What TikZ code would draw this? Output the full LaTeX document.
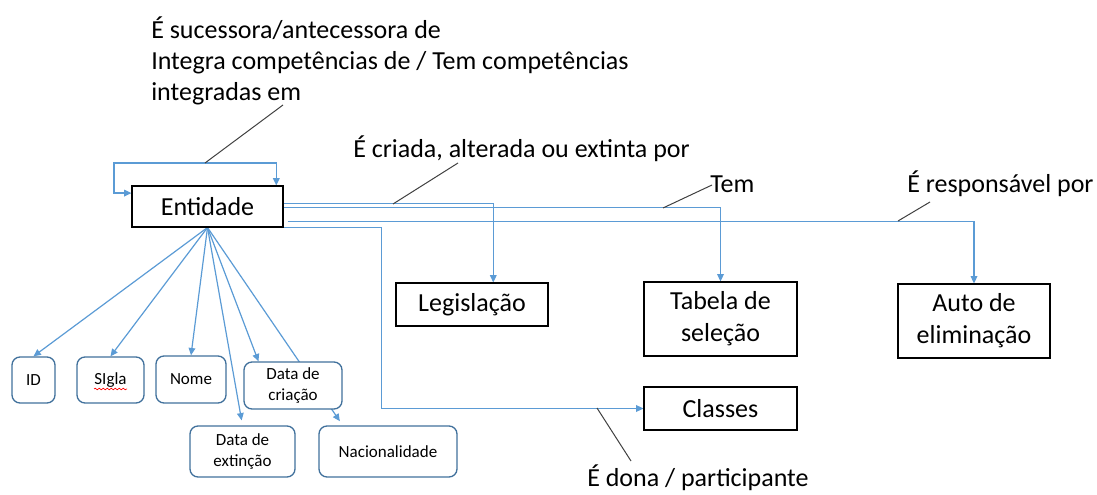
\documentclass[tikz,border=0pt]{standalone}
\usepackage{fontspec}
\setmainfont{Carlito}
\usetikzlibrary{arrows.meta,backgrounds,decorations.pathmorphing}

\begin{document}
\begin{tikzpicture}[x=0.75pt,y=-0.75pt,
  font=\fontsize{19.5}{23.25}\selectfont,
  >={Triangle[length=5.5pt,width=5pt]},
  caixa/.style={draw=black, line width=0.8pt, fill=white, inner sep=0pt, align=center, font=\fontsize{19.5}{24}\selectfont},
  atributo/.style={draw=atributoborda, line width=1pt, rounded corners=6pt, fill=white, inner sep=0pt, align=center, font=\fontsize{12.75}{15.75}\selectfont},
  ligacao/.style={draw=ligacaoazul, line width=0.9pt, ->},
  rotulo/.style={draw=rotulocinza, line width=0.75pt},
  texto/.style={inner sep=0pt, anchor=base west}]
\definecolor{ligacaoazul}{HTML}{5B9BD5}
\definecolor{atributoborda}{HTML}{41719C}
\definecolor{rotulocinza}{HTML}{404040}
\useasboundingbox (0,0) rectangle (1097,495);

% caixas principais
\node[caixa, minimum width=113.25pt, minimum height=30.75pt] (entidade) at (207.5,206.5) {Entidade};
\node[caixa, minimum width=114pt, minimum height=32.25pt] (legis) at (472,304.5) {Legislação};
\node[caixa, minimum width=114.75pt, minimum height=55.5pt] (tabela) at (720.5,319) {Tabela de\\seleção};
\node[caixa, minimum width=114pt, minimum height=55.5pt] (auto) at (974,321) {Auto de\\eliminação};
\node[caixa, minimum width=114.75pt, minimum height=32.25pt] (classes) at (720.5,408.5) {Classes};

% atributos
\node[atributo, minimum width=32.25pt, minimum height=34.5pt] (id) at (33.5,380) {ID};
\node[atributo, minimum width=50.25pt, minimum height=34.5pt] (sigla) at (110.5,380) {SIgla};
\node[atributo, minimum width=52.5pt, minimum height=35.25pt] (nome) at (191,379.5) {Nome};
\node[atributo, minimum width=73.5pt, minimum height=35.25pt] (criacao) at (293,385.5) {Data de\\criação};
\node[atributo, minimum width=78.75pt, minimum height=38.25pt] (extincao) at (242.5,451.5) {Data de\\extinção};
\node[atributo, minimum width=103.5pt, minimum height=38.25pt] (nacional) at (388,451.5) {Nacionalidade};
\draw[red, line width=0.5pt, decorate, decoration={snake, amplitude=0.6pt, segment length=3pt}] (94,389) -- (127,389);

% rotulos
\node[texto, anchor=north west, align=left] (rotsucessora) at (151,17) {É sucessora/antecessora de\\Integra competências de / Tem competências\\integradas em};
\node[texto] (rotcriada) at (353,158) {É criada, alterada ou extinta por};
\node[texto] (rottem) at (710,193) {Tem};
\node[texto] (rotresp) at (907,193) {É responsável por};
\node[texto] (rotdona) at (587,487) {É dona / participante};

\coordinate (laco) at (114,163);
\coordinate (lacorot) at (205,163);
\coordinate (lacotopo) at (283,105);
\coordinate (legisrot) at (393,204);
\coordinate (legistopo) at (458,163);
\coordinate (tabelarot) at (663,208);
\coordinate (tabelatopo) at (712,185);
\coordinate (autorot) at (898,221);
\coordinate (autotopo) at (930,202);
\coordinate (classesrot) at (597,408);
\coordinate (classestopo) at (631,461);

\begin{scope}[on background layer]
\draw[ligacao, <->] (entidade.170) -| (laco) -| (entidade.17);
\foreach \alvo/\ang in {id/north, sigla/north, nome/north, criacao/145}
  \draw[ligacao] (entidade.south) -- (\alvo.\ang);
\draw[ligacao, shorten >=3.75pt] (entidade.south) -- (extincao.north);
\draw[ligacao, shorten >=3.75pt] (entidade.south) -- (nacional.150);
\draw[ligacao] (entidade.2) -| (legis.46);
\draw[ligacao] (entidade.359) -| (tabela.north);
\draw[ligacao, shorten <=3pt] (entidade.349) -| (auto.north);
\draw[ligacao] (entidade.south east) -- ++(98,0) |- (classes.west);
\end{scope}

\draw[rotulo] (lacorot) -- (lacotopo);
\draw[rotulo] (legisrot) -- (legistopo);
\draw[rotulo] (tabelarot) -- (tabelatopo);
\draw[rotulo] (autorot) -- (autotopo);
\draw[rotulo] (classesrot) -- (classestopo);
\end{tikzpicture}
\end{document}
